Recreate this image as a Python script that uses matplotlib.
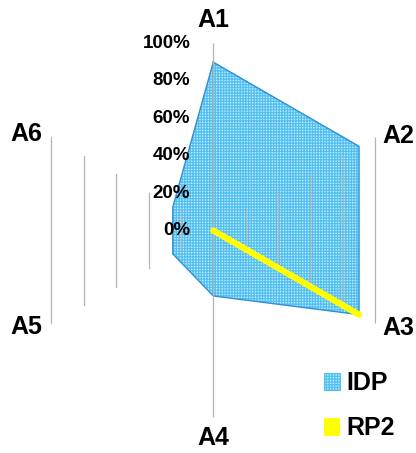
import numpy as np
import matplotlib
matplotlib.use('Agg')
import matplotlib.pyplot as plt
from matplotlib.patches import Patch
from matplotlib.lines import Line2D

plt.rcParams['font.family'] = ['Liberation Sans', 'DejaVu Sans']
plt.rcParams['hatch.linewidth'] = 0.9

# ---- data ----
categories = ['A1', 'A2', 'A3', 'A4', 'A5', 'A6']
idp = [0.90, 0.90, 0.90, 0.35, 0.25, 0.25]
rp2 = [0.0, 0.0, 0.90, 0.0, 0.0, 0.0]
levels = [0.2, 0.4, 0.6, 0.8, 1.0]
level_labels = ['0%', '20%', '40%', '60%', '80%', '100%']

FILL = '#c2e9fb'
HATCH = '#52c0f0'
EDGE = '#2f8fd6'
YELLOW = '#ffff00'
GRID = '#b4b4b4'

# label offsets (points) from the tip of each axis
label_offsets = [(0, 16.6), (16.6, 0.7), (16.9, -3.2),
                 (0, -15.1), (-17.7, -2.5), (-17.7, 2.2)]

fig = plt.figure(figsize=(4.16, 4.53), dpi=100)
ax = fig.add_axes([0.0632, 0.0784, 0.899, 0.8256], projection='polar')
ax.set_theta_offset(np.pi / 2)
ax.set_theta_direction(-1)
ax.set_ylim(0, 1)
ax.grid(False)
ax.set_xticks([])
ax.set_yticks([])
ax.spines['polar'].set_visible(False)
ax.patch.set_visible(False)

n = len(categories)
theta = np.arange(n) * 2 * np.pi / n

# IDP area (pattern fill + outline)
th_c = np.append(theta, theta[0])
idp_c = np.append(idp, idp[0])
ax.fill(th_c, idp_c, facecolor=FILL, edgecolor=HATCH, hatch='++++++', lw=0, zorder=1)
ax.plot(th_c, idp_c, color=EDGE, lw=1.0, zorder=2)

# gridlines: only the vertical edges of the hexagons show
for r in levels:
    ax.plot([theta[1], theta[2]], [r, r], color=GRID, lw=0.9, zorder=3)
    ax.plot([theta[4], theta[5]], [r, r], color=GRID, lw=0.9, zorder=3)
ax.plot([theta[0], theta[0]], [0, 1], color=GRID, lw=0.9, zorder=3)
ax.plot([theta[3], theta[3]], [0, 1], color=GRID, lw=0.9, zorder=3)

# RP2 line
rp2_c = np.append(rp2, rp2[0])
ax.plot(th_c, rp2_c, color=YELLOW, lw=4.2, solid_capstyle='round',
        solid_joinstyle='round', zorder=4)

# radial labels
for i, lab in enumerate(level_labels):
    r = i * 0.2
    ax.annotate(lab, xy=(0, r), xytext=(-16.5, 0), textcoords='offset points',
                ha='right', va='center', fontsize=13.5, fontweight='bold')

# category labels
for t, lab, off in zip(theta, categories, label_offsets):
    ax.annotate(lab, xy=(t, 1), xytext=off, textcoords='offset points',
                ha='center', va='center', fontsize=18, fontweight='bold')

handles = [Patch(facecolor=FILL, edgecolor=HATCH, hatch='++++++', lw=0.8),
           Line2D([0], [0], color=YELLOW, lw=13, solid_capstyle='butt')]
fig.legend(handles, ['IDP', 'RP2'], loc='upper left',
           bbox_to_anchor=(324 / 416, 1 - 371 / 453), frameon=False,
           prop={'size': 18, 'weight': 'bold'}, handlelength=0.65,
           handleheight=0.65, handletextpad=0.25, labelspacing=0.85,
           borderpad=0, borderaxespad=0)

fig.savefig('out.png', dpi=100)
